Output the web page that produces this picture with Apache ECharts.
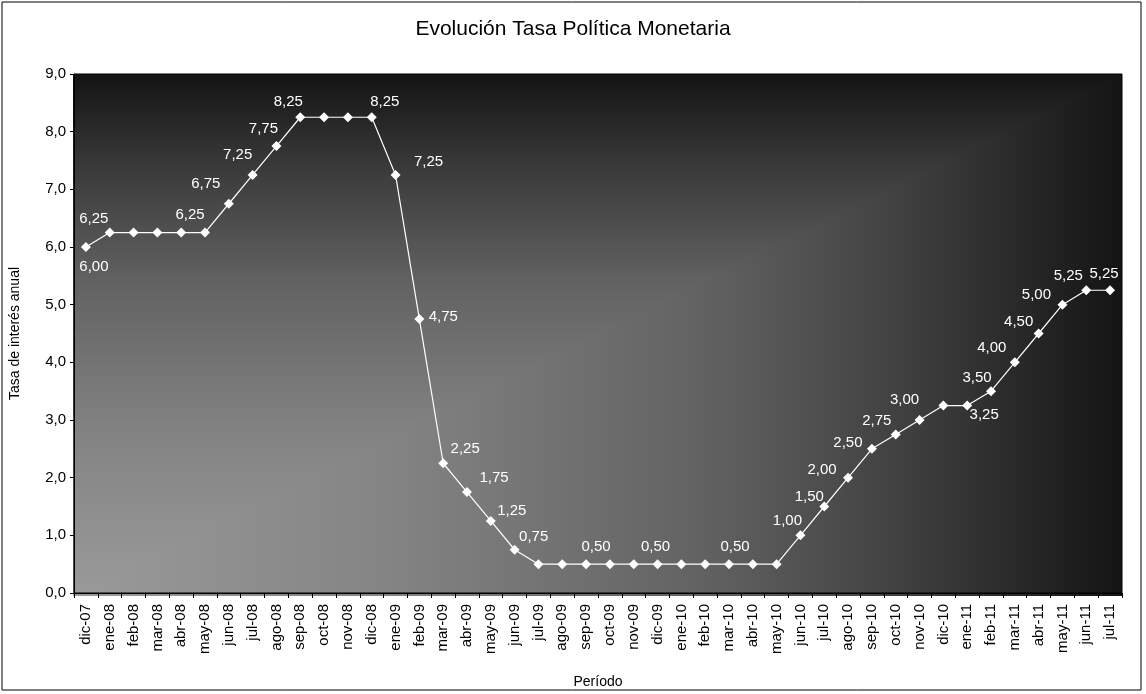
<!DOCTYPE html>
<html>
<head>
<meta charset="utf-8">
<script src="https://cdn.jsdelivr.net/npm/echarts@6/dist/echarts.min.js"></script>
<style>
  html, body { margin: 0; padding: 0; background: #fff; }
  #chart { width: 1146px; height: 694px; }
</style>
</head>
<body>
<div id="chart"></div>
<script>
// periodos (mensual)
const periodos = [
  'dic-07','ene-08','feb-08','mar-08','abr-08','may-08','jun-08','jul-08','ago-08','sep-08',
  'oct-08','nov-08','dic-08','ene-09','feb-09','mar-09','abr-09','may-09','jun-09','jul-09',
  'ago-09','sep-09','oct-09','nov-09','dic-09','ene-10','feb-10','mar-10','abr-10','may-10',
  'jun-10','jul-10','ago-10','sep-10','oct-10','nov-10','dic-10','ene-11','feb-11','mar-11',
  'abr-11','may-11','jun-11','jul-11'
]

// tasa de politica monetaria
const tasa = [
  6.00, 6.25, 6.25, 6.25, 6.25, 6.25, 6.75, 7.25, 7.75, 8.25,
  8.25, 8.25, 8.25, 7.25, 4.75, 2.25, 1.75, 1.25, 0.75, 0.50,
  0.50, 0.50, 0.50, 0.50, 0.50, 0.50, 0.50, 0.50, 0.50, 0.50,
  1.00, 1.50, 2.00, 2.50, 2.75, 3.00, 3.25, 3.25, 3.50, 4.00,
  4.50, 5.00, 5.25, 5.25
]

const yTicks = [0, 1, 2, 3, 4, 5, 6, 7, 8, 9]

// etiquetas visibles: periodo -> desplazamiento del texto (px)
const etiquetas = {
  'dic-07': [8, 20], 'ene-08': [-16, -14], 'may-08': [-15, -18], 'jun-08': [-23, -20],
  'jul-08': [-15, -20], 'ago-08': [-13, -17], 'sep-08': [-12, -15], 'dic-08': [13, -15],
  'ene-09': [33, -13], 'feb-09': [24, -2], 'mar-09': [22, -14], 'abr-09': [27, -14],
  'may-09': [21, -10], 'jun-09': [19, -13], 'sep-09': [10, -17], 'dic-09': [-2, -17],
  'mar-10': [6, -17], 'jun-10': [-13, -14], 'jul-10': [-15, -10], 'ago-10': [-26, -8],
  'sep-10': [-24, -6], 'oct-10': [-19, -14], 'nov-10': [-15, -20], 'ene-11': [17, 9],
  'feb-11': [-14, -13], 'mar-11': [-23, -14], 'abr-11': [-20, -12], 'may-11': [-26, -10],
  'jun-11': [-18, -14], 'jul-11': [-6, -16]
}

const coma = (v, d) => v.toFixed(d).replace('.', ',')

const serieData = tasa.map((v, i) => {
  const off = etiquetas[periodos[i]]
  if (!off) return v
  return {
    value: v,
    label: { show: true, position: 'inside', offset: off }
  }
})

const G = { left: 73, top: 74, right: 24, bottom: 98 }
const W = 1146 - G.left - G.right
const H = 694 - G.top - G.bottom

// degradado "desde esquina" (abajo-izquierda claro, arriba/derecha oscuro)
const paradas = [
  { offset: 0, color: '#9a9a9a' },
  { offset: 0.3, color: '#848484' },
  { offset: 0.6, color: '#626262' },
  { offset: 0.8, color: '#3e3e3e' },
  { offset: 1, color: '#141414' }
]

const chart = echarts.init(document.getElementById('chart'))
chart.setOption({
  backgroundColor: '#fff',
  animation: false,
  textStyle: { fontFamily: 'Liberation Sans, Arial, sans-serif' },
  title: {
    text: 'Evolución Tasa Política Monetaria',
    left: 'center',
    top: 14,
    textStyle: { fontSize: 21, fontWeight: 'normal', color: '#000' }
  },
  graphic: [
    {
      type: 'rect', z: -10, silent: true,
      shape: { x: 2, y: 2, width: 1139, height: 688 },
      style: { fill: '#fff', stroke: '#000', lineWidth: 1 }
    },
    {
      type: 'rect', z: -9, silent: true,
      x: G.left, y: G.top,
      shape: { x: 0, y: 0, width: W, height: H },
      style: {
        fill: { type: 'linear', x: 0, y: 1, x2: 0, y2: 0, colorStops: paradas }
      }
    },
    {
      type: 'rect', z: -8, silent: true,
      x: G.left, y: G.top,
      shape: { x: 0, y: 0, width: W, height: H },
      style: {
        blend: 'darken',
        fill: { type: 'linear', x: 0, y: 0, x2: 1, y2: 0, colorStops: paradas }
      }
    }
  ],
  grid: {
    left: G.left, top: G.top, right: G.right, bottom: G.bottom,
    show: true, backgroundColor: 'transparent', borderColor: '#000', borderWidth: 1
  },
  xAxis: {
    type: 'category',
    data: periodos,
    boundaryGap: true,
    name: 'Período',
    nameLocation: 'middle',
    nameGap: 82,
    nameTextStyle: { fontSize: 14, color: '#000' },
    axisLine: { lineStyle: { color: '#000', width: 1 } },
    axisTick: { show: true, length: 5, lineStyle: { color: '#000' } },
    axisLabel: { rotate: 90, interval: 0, fontSize: 15, color: '#000', margin: 11 },
    splitLine: { show: false }
  },
  yAxis: {
    type: 'value',
    min: yTicks[0],
    max: yTicks[yTicks.length - 1],
    interval: 1,
    name: 'Tasa de interés anual',
    nameLocation: 'middle',
    nameGap: 52,
    nameTextStyle: { fontSize: 14, color: '#000' },
    axisLine: { show: true, lineStyle: { color: '#000', width: 1 } },
    axisTick: { show: true, length: 4, lineStyle: { color: '#000' } },
    axisLabel: { fontSize: 15, color: '#000', margin: 8, formatter: v => coma(v, 1) },
    splitLine: { show: false }
  },
  series: [{
    type: 'line',
    data: serieData,
    symbol: 'diamond',
    symbolSize: 10,
    itemStyle: { color: '#fff', borderColor: '#fff', borderWidth: 0 },
    lineStyle: { color: '#fff', width: 1.2 },
    label: {
      show: false,
      color: '#fff',
      fontSize: 15,
      align: 'center',
      verticalAlign: 'middle',
      formatter: p => coma(p.value, 2)
    },
    emphasis: { disabled: true }
  }]
})
</script>
</body>
</html>
